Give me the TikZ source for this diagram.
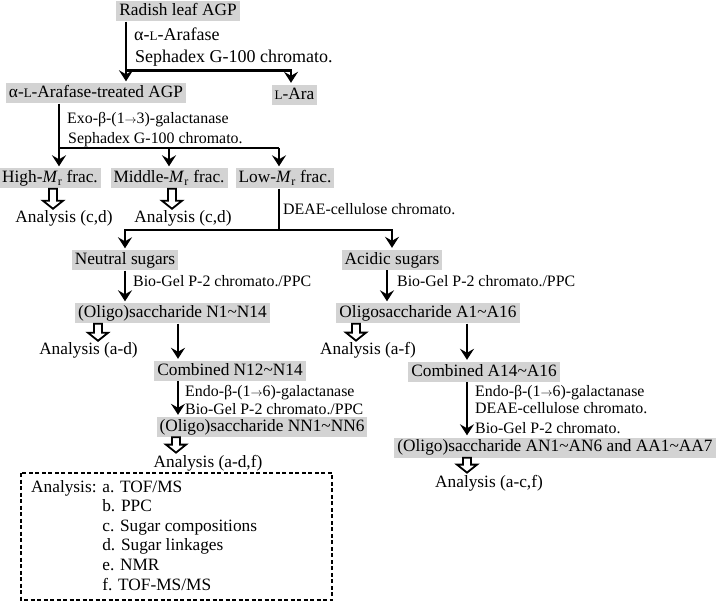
\documentclass[tikz,border=0pt]{standalone}
\usepackage{fontspec}
\setmainfont{Liberation Serif}
\usepackage{tikz}
\usetikzlibrary{arrows.meta,calc}
\definecolor{boxgray}{RGB}{211,211,211}
\newcommand{\Lsc}{{\fontsize{13}{13}\selectfont L}}
\newcommand{\Mr}{\textit{M}\textsubscript{r}}
\newcommand{\tld}{\textasciitilde}
\newcommand{\rarr}{{\fontsize{12}{12}\selectfont$\rightarrow$}}

\begin{document}
\begin{tikzpicture}[x=1pt,y=-1pt,
font=\fontsize{17.3}{19.6}\selectfont,
box/.style={fill=boxgray,inner xsep=3pt,inner ysep=0pt,minimum height=20pt,text height=12.5pt,text depth=4pt},
lbl/.style={inner sep=0pt,anchor=base west,font=\fontsize{15.9}{18}\selectfont},
biglbl/.style={lbl,font=\fontsize{18}{20}\selectfont},
txt/.style={inner sep=0pt,anchor=base},
ln/.style={line width=2.6pt},
arr/.style={line width=2.6pt,shorten >=2pt,-{Stealth[length=11pt,width=14pt,inset=4pt]}},
hollow/.style={line width=1.8pt,fill=white,line join=miter,to path={let \p1=(\tikztostart),\p2=(\tikztotarget) in
(\x1-4pt,\y1) -- (\x1-4pt,\y2+8pt) -- (\x1-10pt,\y2+8pt) -- (\x1,\y2) -- (\x1+10pt,\y2+8pt) -- (\x1+4pt,\y2+8pt) -- (\x1+4pt,\y1) -- cycle}},
legendbox/.style={line width=1.5pt,dash pattern=on 4pt off 2.5pt}]
\useasboundingbox (0,0) rectangle (725,601);

\node[box] (radish) at (178,11.5) {Radish leaf AGP};
\node[biglbl] (arafase) at (134,40.7) {α-\Lsc-Arafase};
\node[biglbl] (sephadex1) at (135,62.7) {Sephadex G-100 chromato.};
\node[box] (treated) at (96,93.5) {α-\Lsc-Arafase-treated AGP};
\node[box] (lara) at (294.5,95) {\Lsc-Ara};
\node[lbl] (exo) at (67,123.3) {Exo-β-(1\rarr3)-galactanase};
\node[lbl] (sephadex2) at (68,144) {Sephadex G-100 chromato.};
\node[box] (high) at (50,178.5) {High-\Mr\ frac.};
\node[box] (middle) at (169,178.5) {Middle-\Mr\ frac.};
\node[box] (low) at (285,178.5) {Low-\Mr\ frac.};
\node[txt] (ancd1) at (64,223) {Analysis (c,d)};
\node[txt] (ancd2) at (183,223) {Analysis (c,d)};
\node[lbl] (deae1) at (283,215) {DEAE-cellulose chromato.};
\node[box] (neutral) at (125,260.5) {Neutral sugars};
\node[box] (acidic) at (392,260) {Acidic sugars};
\node[lbl] (biogel1) at (133,287) {Bio-Gel P-2 chromato./PPC};
\node[lbl] (biogel2) at (397,287) {Bio-Gel P-2 chromato./PPC};
\node[box] (nsacc) at (172.5,313.5) {(Oligo)saccharide N1\tld N14};
\node[box] (asacc) at (428,313.5) {Oligosaccharide A1\tld A16};
\node[txt] (anad) at (88.5,355) {Analysis (a-d)};
\node[txt] (anaf) at (368,355) {Analysis (a-f)};
\node[box] (ncomb) at (230,371) {Combined N12\tld N14};
\node[box] (acomb) at (484,372) {Combined A14\tld A16};
\node[lbl] (endo1) at (185,396) {Endo-β-(1\rarr6)-galactanase};
\node[lbl] (biogel3) at (185,414) {Bio-Gel P-2 chromato./PPC};
\node[box] (nnsacc) at (262,427) {(Oligo)saccharide NN1\tld NN6};
\node[txt] (anadf) at (208,467) {Analysis (a-d,f)};
\node[lbl] (endo2) at (475,396) {Endo-β-(1\rarr6)-galactanase};
\node[lbl] (deae2) at (475,413) {DEAE-cellulose chromato.};
\node[lbl] (biogel4) at (475,433) {Bio-Gel P-2 chromato.};
\node[box] (aasacc) at (555,447.5) {(Oligo)saccharide AN1\tld AN6 and AA1\tld AA7};
\node[txt] (anacf) at (489,487) {Analysis (a-c,f)};

\draw[legendbox] (21,473) rectangle (332,600);
\node[txt,anchor=base west] (legend) at (31,492) {\begin{tabular}[t]{@{}l@{ }l@{}}
Analysis: & a. TOF/MS\\
 & b. PPC\\
 & c. Sugar compositions\\
 & d. Sugar linkages\\
 & e. NMR\\
 & f. TOF-MS/MS
\end{tabular}};

\coordinate (j1) at (126,70.7);
\coordinate (j1r) at (291,70.7);
\coordinate (j2) at (59,148);
\coordinate (j2r) at (279,148);
\coordinate (j3) at (279,230);
\coordinate (cAc) at (387,0);
\coordinate (cN) at (178,0);
\coordinate (cA) at (467,0);
\coordinate (hH) at (53,0);
\coordinate (hM) at (172,0);
\coordinate (hN) at (98,0);
\coordinate (hA) at (356,0);
\coordinate (hNN) at (176,0);
\coordinate (hAA) at (467,0);

\draw[arr] (radish.south -| j1) -- (treated.north -| j1);
\draw[arr] (j1) -- (j1r) -- (lara.north -| j1r);
\draw[ln] (treated.south -| j2) -- (j2) -- (j2r);
\draw[arr] (j2) -- (high.north -| j2);
\draw[arr] (j2 -| middle) -- (middle.north);
\draw[arr] (j2r) -- (low.north -| j2r);
\draw[ln] (low.south -| j3) -- (j3);
\draw[arr] (j3) -| (neutral.north);
\draw[arr] (j3) -| (acidic.north);
\draw[arr] (neutral.south) -- (nsacc.north -| neutral.south);
\draw[arr] (acidic.south -| cAc) -- (asacc.north -| cAc);
\draw[arr] (nsacc.south -| cN) -- (ncomb.north -| cN);
\draw[arr] (ncomb.south -| cN) -- (nnsacc.north -| cN);
\draw[arr] (asacc.south -| cA) -- (acomb.north -| cA);
\draw[arr] (acomb.south -| cA) -- (aasacc.north -| cA);

\draw[hollow] (high.south -| hH) to ([yshift=2pt]ancd1.north);
\draw[hollow] (middle.south -| hM) to ([yshift=2pt]ancd2.north);
\draw[hollow] (nsacc.south -| hN) to ([yshift=2pt]anad.north);
\draw[hollow] (asacc.south -| hA) to ([yshift=2pt]anaf.north);
\draw[hollow] (nnsacc.south -| hNN) to ([yshift=2pt]anadf.north);
\draw[hollow] (aasacc.south -| hAA) to ([yshift=2pt]anacf.north);
\end{tikzpicture}
\end{document}
